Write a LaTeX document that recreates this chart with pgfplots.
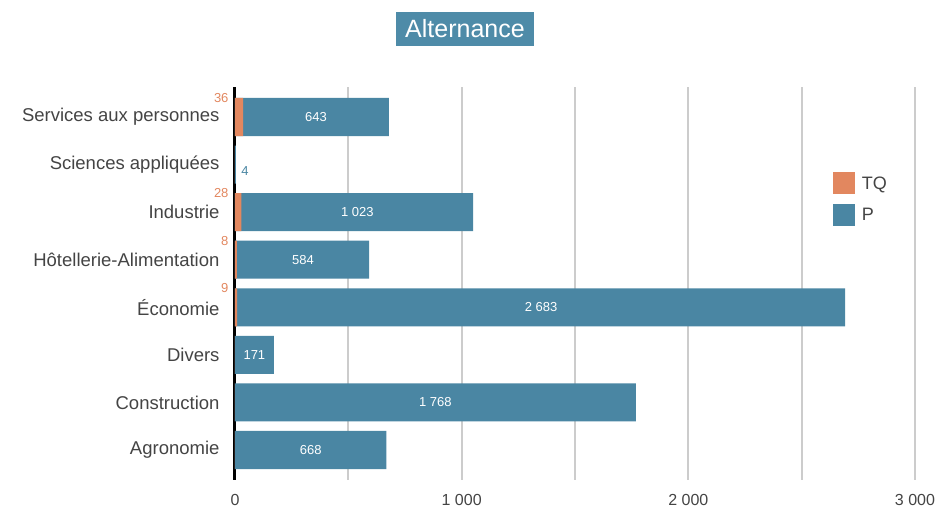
\documentclass[border=0pt]{standalone}
\usepackage{fontspec}
\setmainfont{Liberation Sans}
\usepackage{pgfplots}
\pgfplotsset{compat=1.18}
\usepackage{pgfplotstable}
\definecolor{tq}{HTML}{E2875F}
\definecolor{pc}{HTML}{4A86A3}
\definecolor{titlec}{HTML}{4E8BA8}
\definecolor{txt}{HTML}{444444}
\definecolor{gridc}{HTML}{CCCCCC}

\pgfplotstableread[col sep=comma]{
y,tq,p
7,36,643
6,0,4
5,28,1023
4,8,584
3,9,2683
2,0,171
1,0,1768
0,0,668
}\data

\pgfplotstableread[col sep=comma]{
y,tq,p,lab
7,36,643,643
5,28,1023,1 023
4,8,584,584
3,9,2683,2 683
2,0,171,171
1,0,1768,1 768
0,0,668,668
}\plabels

\pgfplotstableread[col sep=comma]{
y,x,lab
7,0,36
5,0,28
4,0,8
3,0,9
}\tqlabels

\pgfplotstableread[col sep=comma]{
y,x,lab
6,4,4
}\smalllabel

\begin{document}
\begin{tikzpicture}
\path[use as bounding box] (-235pt,-28pt) rectangle (704pt,480pt);
\begin{axis}[
  scale only axis,
  width=680pt, height=393pt,
  xmin=0, xmax=3000, ymin=-0.63, ymax=7.63,
  xtick={0,1000,2000,3000},
  xticklabels={0,1 000,2 000,3 000},
  minor xtick={500,1500,2500},
  xmajorgrids, xminorgrids,
  major grid style={gridc, line width=2pt},
  minor grid style={gridc, line width=2pt},
  ytick={0,...,7},
  yticklabels={Agronomie,Construction,Divers,Économie,Hôtellerie-Alimentation,Industrie,Sciences appliquées,Services aux personnes},
  major tick length=0pt, minor tick length=0pt,
  separate axis lines,
  axis lines*=left,
  axis line style={-},
  x axis line style={draw=none},
  y axis line style={black, line width=3pt},
  xticklabel style={font=\fontsize{16}{16}\selectfont, text=txt, yshift=-11pt},
  yticklabel style={font=\fontsize{18.5}{18.5}\selectfont, text=txt, xshift=-12pt},
  legend style={at={(rel axis cs:0.879,0.783)}, anchor=north west, draw=none, fill=none,
    font=\fontsize{18}{18}\selectfont, text=txt, row sep=10pt, inner sep=0pt},
  legend cell align=left,
]
\addlegendimage{legend image code/.code={\fill[tq, draw=none] (0pt,-11pt) rectangle (22pt,11pt); \path[draw=none, fill=none] (0pt,0pt) rectangle (27pt,0.1pt);}}
\addlegendentry{TQ}
\addlegendimage{legend image code/.code={\fill[pc, draw=none] (0pt,-11pt) rectangle (22pt,11pt); \path[draw=none, fill=none] (0pt,0pt) rectangle (27pt,0.1pt);}}
\addlegendentry{P}

\addplot[xbar, bar width=0.8, bar shift=0pt, fill=pc, draw=none, forget plot]
  table[x expr=\thisrow{tq}+\thisrow{p}, y=y] {\data};
\addplot[xbar, bar width=0.8, bar shift=0pt, fill=tq, draw=none, forget plot]
  table[x=tq, y=y] {\data};

\addplot[draw=none, mark=none, forget plot, nodes near coords, point meta=explicit symbolic,
  every node near coord/.append style={white, font=\fontsize{13}{13}\selectfont, anchor=center}]
  table[x expr=\thisrow{tq}+\thisrow{p}/2, y=y, meta=lab, col sep=comma] {\plabels};

\addplot[draw=none, mark=none, forget plot, nodes near coords, point meta=explicit symbolic,
  every node near coord/.append style={tq, font=\fontsize{13}{13}\selectfont, anchor=east, xshift=-3pt, yshift=0pt}]
  table[x=x, y expr=\thisrow{y}+0.40, meta=lab] {\tqlabels};

\addplot[draw=none, mark=none, forget plot, nodes near coords, point meta=explicit symbolic,
  every node near coord/.append style={pc, font=\fontsize{13}{13}\selectfont, anchor=west, xshift=2pt, yshift=-6pt}]
  table[x=x, y=y, meta=lab] {\smalllabel};
\end{axis}
\node[fill=titlec, text=white, font=\fontsize{25}{25}\selectfont, inner xsep=9pt, minimum height=34pt] at (230pt,451pt) {Alternance};
\end{tikzpicture}
\end{document}
